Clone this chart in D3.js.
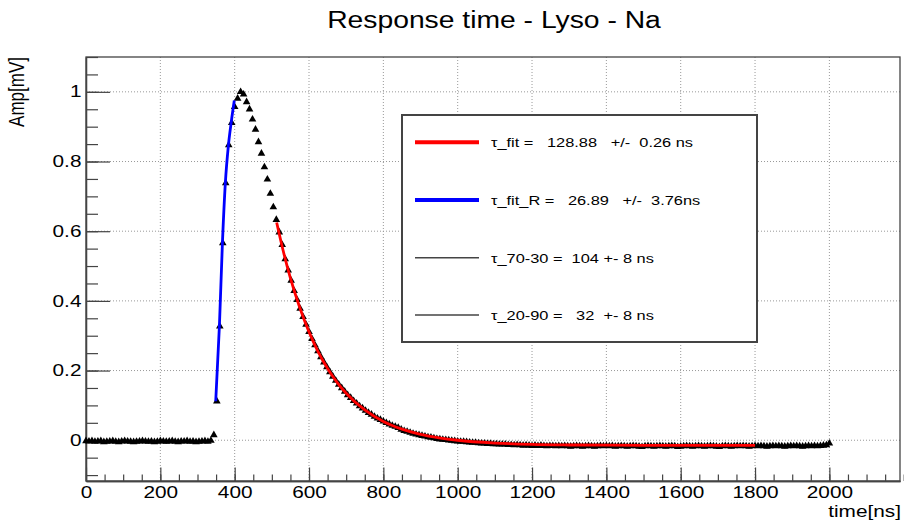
<!DOCTYPE html>
<html>
<head>
<meta charset="utf-8">
<title>Response time - Lyso - Na</title>
<script src="https://d3js.org/d3.v7.min.js"></script>
<style>
  body { margin: 0; background: #fff; }
  svg { display: block; font-family: "Liberation Sans", Arial, Helvetica, sans-serif; }
</style>
</head>
<body>
<div id="chart"></div>
<script>
// scope sampling, ns between two points
var SAMPLE_NS = 8;

// flat part before the pulse, starts at 0 ns
var baselineStart = 0;
var baseline = [-0.002, -0.003, -0.002, -0.004, -0.003, -0.002, -0.005, -0.004, -0.003, -0.002,
                -0.004, -0.005, -0.003, -0.002, -0.003, -0.004, -0.005, -0.004, -0.003, -0.002,
                -0.003, -0.004, -0.003, -0.005, -0.004, -0.002, -0.003, -0.004, -0.003, -0.002,
                -0.004, -0.005, -0.003, -0.003, -0.002, -0.004, -0.003, -0.005, -0.004, -0.003,
                -0.002, -0.004, -0.001];

// rise + peak, starts at 344 ns
var pulseStart = 344;
var pulse = [0.015, 0.112, 0.327, 0.566, 0.738, 0.847, 0.911, 0.957, 0.981, 1.000,
             0.993, 0.971, 0.950, 0.921, 0.892, 0.856, 0.823, 0.784, 0.749, 0.708,
             0.669, 0.633, 0.597, 0.561];

// decay tail, starts at 536 ns
var tailStart = 536;
var tail = [0.520, 0.488, 0.458, 0.429, 0.403, 0.378, 0.354, 0.332, 0.311, 0.291,
            0.273, 0.256, 0.239, 0.224, 0.210, 0.196, 0.183, 0.171, 0.160, 0.150,
            0.140, 0.130, 0.122, 0.113, 0.106, 0.098, 0.092, 0.085, 0.079, 0.074,
            0.068, 0.063, 0.059, 0.054, 0.050, 0.046, 0.042, 0.039, 0.036, 0.031,
            0.027, 0.025, 0.022, 0.019, 0.017, 0.015, 0.013, 0.011, 0.009, 0.008,
            0.006, 0.004, 0.003, 0.002, 0.001, 0.000, -0.001, -0.002, -0.003,
            -0.004, -0.004, -0.005, -0.006, -0.007, -0.007, -0.008, -0.009, -0.009, -0.010,
            -0.010, -0.011, -0.011, -0.012, -0.012, -0.012, -0.013, -0.013, -0.014, -0.013,
            -0.014, -0.015, -0.014, -0.015, -0.016, -0.015, -0.016, -0.015, -0.016, -0.017,
            -0.016, -0.016, -0.017, -0.016, -0.017, -0.016, -0.017, -0.018, -0.017, -0.016,
            -0.017, -0.018, -0.017, -0.016, -0.017, -0.018, -0.017, -0.016, -0.017, -0.016,
            -0.017, -0.016, -0.018, -0.017, -0.016, -0.017, -0.018, -0.017, -0.016, -0.017,
            -0.018, -0.019, -0.017, -0.016, -0.017, -0.018, -0.017, -0.016, -0.017, -0.018,
            -0.017, -0.016, -0.017, -0.019, -0.018, -0.017, -0.016, -0.017, -0.018, -0.017,
            -0.016, -0.017, -0.018, -0.017, -0.016, -0.017, -0.018, -0.019, -0.017, -0.016,
            -0.017, -0.018, -0.017, -0.016, -0.017, -0.016, -0.017, -0.018, -0.017, -0.016,
            -0.017, -0.016, -0.017, -0.018, -0.017, -0.016, -0.017, -0.016, -0.017, -0.018,
            -0.017, -0.016, -0.017, -0.016, -0.017, -0.018, -0.017, -0.016, -0.017, -0.016,
            -0.017, -0.016, -0.015, -0.014, -0.009];

// fitted curves
var fitFallT = [513, 530, 550, 575, 600, 625, 650, 675, 700, 750, 800, 850, 900, 950, 1000, 1100, 1200, 1300, 1400, 1500, 1600, 1800];
var fitFallV = [0.625, 0.546, 0.465, 0.381, 0.311, 0.253, 0.206, 0.167, 0.135, 0.087, 0.054, 0.032, 0.017, 0.007, 0.000, -0.008, -0.012, -0.0136, -0.0143, -0.0147, -0.0149, -0.015];
var fitRiseT = [349, 359, 367, 375, 383, 391, 399];
var fitRiseV = [0.112, 0.330, 0.565, 0.740, 0.845, 0.915, 0.975];

var xTicks = [0, 200, 400, 600, 800, 1000, 1200, 1400, 1600, 1800, 2000];
var yTicks = [0, 0.2, 0.4, 0.6, 0.8, 1];

var legendLabels = ["\u03c4_fit =   128.88   +/-  0.26 ns",
                    "\u03c4_fit_R =   26.89   +/-  3.76ns",
                    "\u03c4_70-30 =  104 +- 8 ns",
                    "\u03c4_20-90 =   32  +- 8 ns"];
var legendColors = ["#ff0000", "#0000ff", "#444", "#444"];
var legendWidths = [4, 4, 1.4, 1.4];

var width = 904, height = 521;
var margin = {top: 57, right: 4, bottom: 40, left: 86},
    w = width - margin.left - margin.right,
    h = height - margin.top - margin.bottom;

var STRETCH = 1.3; // the picture is a bit wider than tall

var x = d3.scaleLinear().domain([0, 2190]).range([0, w]);
var y = d3.scaleLinear().domain([-0.117, 1.1]).range([h, 0]);

function samples(start, values) {
	return values.map(function(v, i) { return {t: start + i * SAMPLE_NS, v: v}; });
}
var points = samples(baselineStart, baseline).concat(samples(pulseStart, pulse), samples(tailStart, tail));

function stretchText(sel, k) {
	sel.each(function() {
		var t = d3.select(this);
		var base = t.attr("transform") || "";
		t.attr("transform", base + " scale(" + k + ",1)");
	});
}

var svg = d3.select("#chart").append("svg")
        .attr("width", width)
        .attr("height", height);

svg.append("rect").attr("width", width).attr("height", height).attr("fill", "#fff");

var g = svg.append("g")
        .attr("transform", "translate(" + margin.left + "," + margin.top + ")");

// dotted grid
var grid = g.append("g").attr("class", "grid")
        .attr("stroke", "#999").attr("stroke-width", 1).attr("stroke-dasharray", "1,2");
grid.selectAll("line.gx").data(xTicks.filter(function(d) { return d > 0; }))
    .enter().append("line").attr("class", "gx")
    .attr("x1", function(d) { return x(d); }).attr("x2", function(d) { return x(d); })
    .attr("y1", 0).attr("y2", h);
grid.selectAll("line.gy").data(yTicks)
    .enter().append("line").attr("class", "gy")
    .attr("x1", 0).attr("x2", w)
    .attr("y1", function(d) { return y(d); }).attr("y2", function(d) { return y(d); });

// frame
g.append("rect").attr("width", w).attr("height", h)
    .attr("fill", "none").attr("stroke", "#444").attr("stroke-width", 1.3);

// axes
var xMinor = d3.axisBottom(x).tickValues(d3.range(0, 45).map(function(i) { return i * 50; }))
        .tickSizeInner(-6.5).tickSizeOuter(0).tickFormat("");
var xMajor = d3.axisBottom(x).tickValues(xTicks)
        .tickSizeInner(-13.5).tickSizeOuter(0).tickPadding(6).tickFormat(d3.format("d"));
var yMinor = d3.axisLeft(y).tickValues(d3.range(-2, 23).map(function(i) { return i * 0.05; }))
        .tickSizeInner(-12).tickSizeOuter(0).tickFormat("");
var yMajor = d3.axisLeft(y).tickValues(yTicks)
        .tickSizeInner(-24).tickSizeOuter(0).tickPadding(3.5).tickFormat(d3.format("~g"));

g.append("g").attr("transform", "translate(0," + h + ")").call(xMinor);
var gx = g.append("g").attr("transform", "translate(0," + h + ")").call(xMajor);
g.append("g").call(yMinor);
var gy = g.append("g").call(yMajor);

g.selectAll(".domain").attr("stroke", "#444").attr("stroke-width", 1.3);
g.selectAll(".tick line").attr("stroke", "#444").attr("stroke-width", 1.2);
g.selectAll(".tick text").attr("fill", "#000").style("font-size", "16px")
    .style("font-family", "'Liberation Sans', Arial, sans-serif");
stretchText(gx.selectAll(".tick text"), STRETCH);
stretchText(gy.selectAll(".tick text"), STRETCH);

// data points
g.append("g").attr("class", "points")
    .selectAll("path").data(points).enter().append("path")
    .attr("transform", function(d) { return "translate(" + x(d.t) + "," + y(d.v) + ")"; })
    .attr("d", d3.symbol().type(d3.symbolTriangle).size(25))
    .attr("fill", "#000");

// fits on top
var fitLine = d3.line()
        .x(function(d) { return x(d[0]); })
        .y(function(d) { return y(d[1]); })
        .curve(d3.curveMonotoneX);

g.append("path").datum(d3.zip(fitFallT, fitFallV))
    .attr("d", fitLine).attr("fill", "none")
    .attr("stroke", "#ff0000").attr("stroke-width", 2.8);
g.append("path").datum(d3.zip(fitRiseT, fitRiseV))
    .attr("d", fitLine).attr("fill", "none")
    .attr("stroke", "#0000ff").attr("stroke-width", 2.8);

// legend
var leg = svg.append("g").attr("class", "legend");
leg.append("rect")
    .attr("x", 402).attr("y", 115).attr("width", 355).attr("height", 227)
    .attr("fill", "#fff").attr("stroke", "#444").attr("stroke-width", 2);

var rowY = [142.3, 200, 257.7, 315];
var rows = leg.selectAll("g.row").data(legendLabels).enter().append("g")
        .attr("class", "row")
        .attr("transform", function(d, i) { return "translate(0," + rowY[i] + ")"; });
rows.append("line")
    .attr("x1", 415).attr("x2", 479).attr("y1", 0).attr("y2", 0)
    .attr("stroke", function(d, i) { return legendColors[i]; })
    .attr("stroke-width", function(d, i) { return legendWidths[i]; });
rows.append("text")
    .attr("transform", "translate(491,4.8) scale(1.26,1)")
    .attr("xml:space", "preserve")
    .style("white-space", "pre")
    .style("font-size", "13px")
    .attr("fill", "#000")
    .text(function(d) { return d; });

// titles
svg.append("text")
    .attr("transform", "translate(494,28) scale(1.23,1)")
    .attr("text-anchor", "middle")
    .style("font-size", "23px")
    .text("Response time - Lyso - Na");

svg.append("text")
    .attr("transform", "translate(901,517) scale(" + STRETCH + ",1)")
    .attr("text-anchor", "end")
    .style("font-size", "16px")
    .text("time[ns]");

svg.append("text")
    .attr("transform", "translate(24,57) scale(1.25,1) rotate(-90)")
    .attr("text-anchor", "end")
    .style("font-size", "17px")
    .text("Amp[mV]");
</script>
</body>
</html>
